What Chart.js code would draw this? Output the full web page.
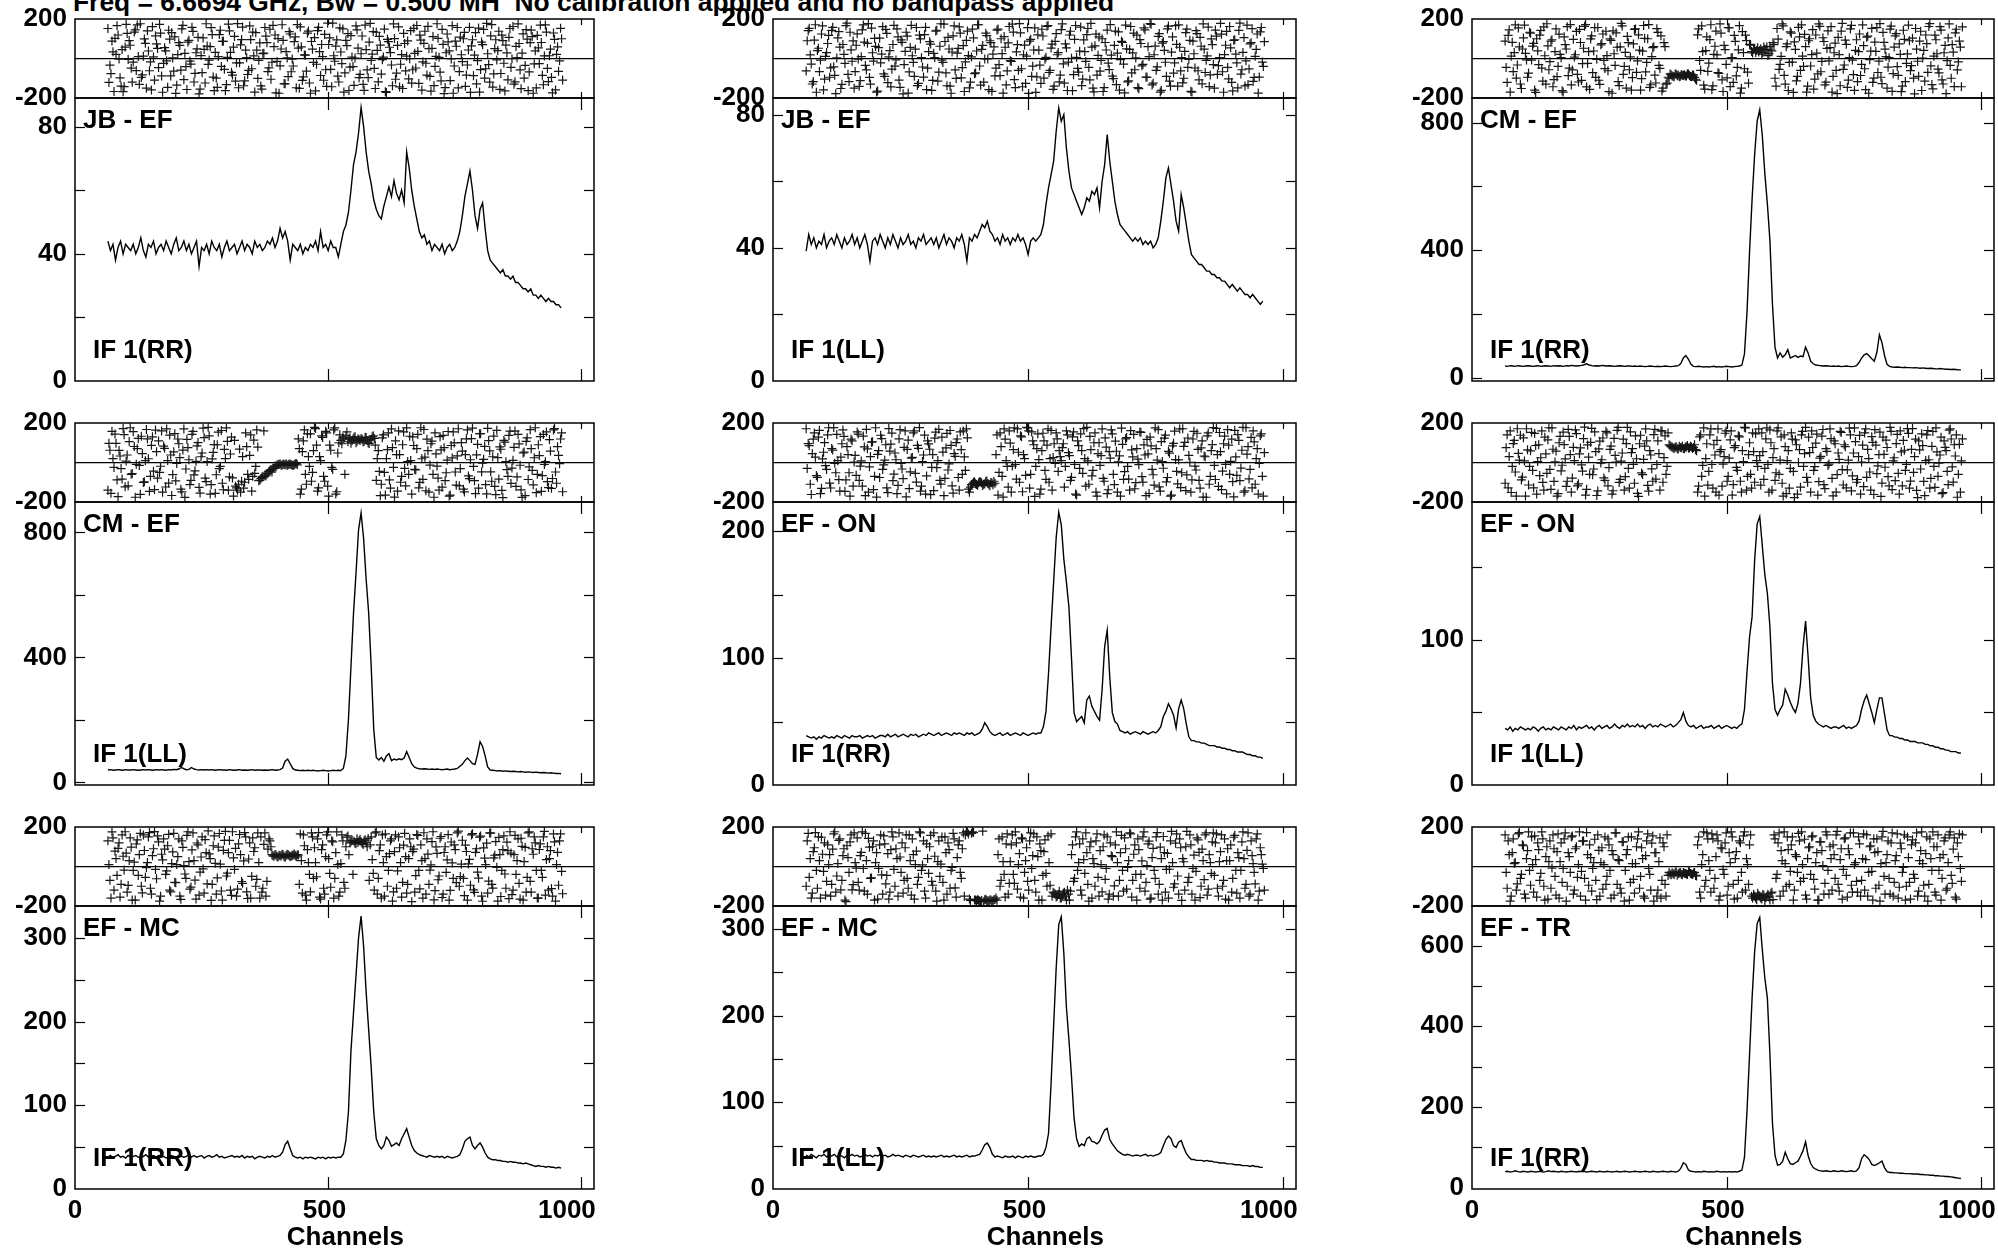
<!DOCTYPE html>
<html><head><meta charset="utf-8">
<script src="https://cdn.jsdelivr.net/npm/chart.js@4.4.1/dist/chart.umd.min.js"></script>
<style>
html,body{margin:0;padding:0;background:#fff;width:1998px;height:1250px;overflow:hidden;position:relative}
canvas{position:absolute}
#title{position:absolute;left:73px;top:-11px;font:bold 26.4px "Liberation Sans",Arial,sans-serif;line-height:1;white-space:pre;color:#000}
</style></head><body>
<div id="title">Freq = 6.6694 GHz, Bw = 0.500 MH  No calibration applied and no bandpass applied</div>
<script>
// ---------------- DATA ----------------
const CHANNELS = [65,70,75,80,85,90,95,100,105,110,115,120,125,130,135,140,145,150,155,160,165,170,175,180,185,190,195,200,205,210,215,220,225,230,235,240,245,250,255,260,265,270,275,280,285,290,295,300,305,310,315,320,325,330,335,340,345,350,355,360,365,370,375,380,385,390,395,400,405,410,415,420,425,430,435,440,445,450,455,460,465,470,475,480,485,490,495,500,505,510,515,520,525,530,535,540,545,550,555,560,565,570,575,580,585,590,595,600,605,610,615,620,625,630,635,640,645,650,655,660,665,670,675,680,685,690,695,700,705,710,715,720,725,730,735,740,745,750,755,760,765,770,775,780,785,790,795,800,805,810,815,820,825,830,835,840,845,850,855,860,865,870,875,880,885,890,895,900,905,910,915,920,925,930,935,940,945,950,955,960];
const PHASE_CHANNELS_A = [65,69,73,77,81,85,89,93,97,101,105,109,113,117,121,125,129,133,137,141,145,149,153,157,161,165,169,173,177,181,185,189,193,197,201,205,209,213,217,221,225,229,233,237,241,245,249,253,257,261,265,269,273,277,281,285,289,293,297,301,305,309,313,317,321,325,329,333,337,341,345,349,353,357,361,365,369,373,377,381,385,389,393,397,401,405,409,413,417,421,425,429,433,437,441,445,449,453,457,461,465,469,473,477,481,485,489,493,497,501,505,509,513,517,521,525,529,533,537,541,545,549,553,557,561,565,569,573,577,581,585,589,593,597,601,605,609,613,617,621,625,629,633,637,641,645,649,653,657,661,665,669,673,677,681,685,689,693,697,701,705,709,713,717,721,725,729,733,737,741,745,749,753,757,761,765,769,773,777,781,785,789,793,797,801,805,809,813,817,821,825,829,833,837,841,845,849,853,857,861,865,869,873,877,881,885,889,893,897,901,905,909,913,917,921,925,929,933,937,941,945,949,953,957,961];
const PHASE_CHANNELS_B = [67,71,75,79,83,87,91,95,99,103,107,111,115,119,123,127,131,135,139,143,147,151,155,159,163,167,171,175,179,183,187,191,195,199,203,207,211,215,219,223,227,231,235,239,243,247,251,255,259,263,267,271,275,279,283,287,291,295,299,303,307,311,315,319,323,327,331,335,339,343,347,351,355,359,363,367,371,375,379,383,387,391,395,399,403,407,411,415,419,423,427,431,435,439,443,447,451,455,459,463,467,471,475,479,483,487,491,495,499,503,507,511,515,519,523,527,531,535,539,543,547,551,555,559,563,567,571,575,579,583,587,591,595,599,603,607,611,615,619,623,627,631,635,639,643,647,651,655,659,663,667,671,675,679,683,687,691,695,699,703,707,711,715,719,723,727,731,735,739,743,747,751,755,759,763,767,771,775,779,783,787,791,795,799,803,807,811,815,819,823,827,831,835,839,843,847,851,855,859,863,867,871,875,879,883,887,891,895,899,903,907,911,915,919,923,927,931,935,939,943,947,951,955,959,963];
const CHANNEL_TICKS = [0, 500, 1000];
const PHASE_TICKS = [-200, 0, 200];

const AMP_JB_EF_RR = [44,41,43,38,42,44,40,43,42,41, 43,40,42,45,41,39,43,42,44,40, 42,43,41,44,42,40,43,45,41,42, 44,41,43,40,42,44,36,42,41,43, 40,44,42,41,43,39,42,44,41,42, 43,40,42,44,41,43,42,40,44,42, 43,41,42,44,43,45,42,44,48,45, 47,44,38,43,42,41,43,40,42,41, 43,42,44,41,47,42,43,41,44,42, 42,39,43,47,49,53,60,68,72,78, 86,80,72,66,62,57,54,52,51,55, 58,61,58,63,59,57,60,56,72,67, 60,55,51,47,45,46,43,44,41,43, 42,41,43,40,42,43,41,42,44,47, 52,58,62,66,60,52,48,54,56,48, 41,38,37,36,35,34,35,33,33,32, 33,31,31,30,29,29,28,29,27,27, 26,27,26,25,26,25,25,24,24,23];
const AMP_JB_EF_LL = [39,44,41,43,40,42,41,44,40,42, 43,41,44,42,40,43,41,42,44,41, 43,40,42,44,41,36,42,43,41,44, 42,40,43,41,44,42,40,43,41,42, 44,41,42,40,43,42,44,41,42,43, 41,43,40,42,44,41,43,42,40,43, 42,44,41,36,43,42,44,43,45,47, 46,48,45,44,42,43,41,44,42,43, 41,43,42,44,42,43,41,38,42,43, 42,43,44,47,53,58,62,66,75,82, 78,80,70,63,58,56,54,52,50,52, 55,54,57,56,58,52,60,65,74,66, 60,54,50,47,46,45,44,43,42,43, 42,43,41,42,41,42,40,41,43,48, 54,61,64,59,54,48,45,56,52,47, 42,38,37,36,35,35,34,33,33,32, 32,31,31,30,30,29,28,29,28,27, 28,27,26,26,25,26,25,24,23,24];
const AMP_CM_EF_RR = [37,36,38,37,36,38,37,36,37,38, 37,36,37,38,36,37,38,37,36,38, 37,38,37,36,38,37,39,38,37,38, 39,41,44,40,38,37,38,37,39,38, 37,38,37,36,37,38,37,36,37,37, 36,37,36,37,36,35,36,37,36,35, 36,35,36,37,36,35,36,37,38,45, 62,70,58,42,36,35,36,35,34,35, 34,35,36,34,35,34,35,36,35,34, 35,36,37,40,75,205,395,560,700,805, 840,760,640,545,430,230,95,62,78,65, 72,88,62,66,70,64,68,66,96,78, 52,44,40,39,38,37,38,37,36,37, 36,37,35,36,37,36,35,36,38,48, 62,72,76,68,60,52,80,135,110,70, 42,36,34,33,34,33,32,33,32,32, 31,32,31,30,31,30,29,30,29,28, 28,29,28,27,27,26,27,26,25,25];
const AMP_CM_EF_LL = [40,41,39,40,41,40,39,41,40,40, 41,40,39,40,41,40,41,40,39,41, 40,41,40,39,41,40,42,41,43,48, 44,41,42,48,43,41,40,41,40,41, 40,41,39,40,41,40,40,39,41,40, 39,40,41,39,40,39,40,41,39,40, 40,39,40,39,40,41,39,40,41,46, 68,75,60,45,40,39,38,39,38,39, 38,39,38,37,38,39,38,37,38,39, 38,39,38,45,85,200,370,540,670,808, 862,780,650,542,370,170,80,72,80,68, 85,92,70,75,72,76,73,78,99,80, 60,50,46,44,43,44,43,42,43,42, 43,42,41,42,43,41,42,43,45,52, 58,70,78,70,60,58,90,130,115,85, 50,40,39,38,37,38,36,37,36,35, 36,35,34,35,34,33,34,33,32,33, 32,31,32,31,30,31,30,29,29,28];
const AMP_EF_ON_RR = [39,38,37,38,36,38,37,39,38,37, 38,37,39,38,37,39,38,37,39,38, 38,39,37,38,39,38,39,37,38,39, 39,38,40,38,39,40,38,39,40,39, 38,40,39,40,38,39,40,39,41,40, 39,40,41,39,40,41,40,39,41,40, 41,40,39,41,40,41,39,40,41,44, 49,46,42,40,39,40,41,39,40,41, 39,40,41,40,39,41,40,39,40,41, 40,41,41,46,58,88,125,160,195,215, 205,178,160,140,100,57,50,52,54,49, 67,70,62,58,54,51,75,109,122,85, 57,50,48,43,42,41,42,40,41,42, 41,40,42,41,40,41,42,41,43,46, 54,58,64,60,55,45,60,67,60,48, 38,35,35,34,34,33,33,32,31,31, 31,30,30,29,29,28,28,27,27,26, 26,26,25,24,24,23,23,22,22,21];
const AMP_EF_ON_LL = [39,38,40,37,39,38,40,39,38,39, 38,40,39,37,39,40,38,39,38,40, 39,38,40,39,38,40,39,41,38,40, 39,40,41,39,40,38,40,41,39,40, 41,39,40,42,40,39,41,40,42,40, 41,40,42,40,41,39,41,42,40,41, 40,42,41,40,41,42,40,41,43,45, 50,44,41,40,41,39,40,41,39,40, 40,41,39,40,41,39,40,41,40,39, 40,39,41,42,52,78,102,116,155,180, 185,165,145,132,109,70,52,48,52,55, 66,62,57,53,50,56,70,95,113,88, 60,48,44,42,41,40,41,40,39,40, 40,39,40,41,39,40,39,40,41,44, 52,58,62,56,50,43,52,60,60,49, 38,34,34,33,33,32,32,31,31,30, 30,30,29,29,29,28,28,27,27,26, 26,25,25,24,24,23,23,23,22,22];
const AMP_EF_MC_RR = [38,40,37,39,41,38,39,37,40,38, 39,40,38,37,39,41,38,39,40,38, 40,38,39,37,38,40,39,38,40,39, 38,39,41,38,40,38,39,40,37,39, 40,38,39,41,38,39,37,38,39,40, 38,39,38,40,37,39,38,39,36,38, 39,38,37,39,38,40,38,39,40,44, 53,57,48,40,38,37,38,36,38,37, 38,37,36,38,37,38,36,38,37,38, 37,38,38,42,58,92,165,210,255,300, 326,290,235,190,145,92,60,52,48,52, 62,58,51,53,55,52,60,66,72,62, 52,46,43,41,40,39,38,40,39,38, 39,38,39,37,39,38,37,38,39,41, 48,57,60,62,52,48,52,55,50,43, 38,36,35,35,34,34,33,33,32,33, 32,32,31,31,30,31,30,29,28,27, 28,27,27,26,27,26,26,25,26,25];
const AMP_EF_MC_LL = [39,37,40,38,36,39,38,40,37,39, 38,40,37,39,38,36,39,38,40,38, 39,37,38,40,38,39,37,39,38,40, 38,39,37,38,40,38,39,38,37,39, 38,37,39,38,37,38,39,37,38,37, 38,37,38,39,37,38,37,38,39,37, 38,37,38,39,37,38,38,39,40,45, 51,53,48,40,37,38,37,36,38,37, 37,38,36,38,37,36,38,37,38,37, 37,38,38,40,48,64,122,188,255,305, 314,272,210,172,130,82,58,49,52,50, 58,60,55,54,52,55,62,68,70,57, 52,48,44,42,40,39,40,39,38,39, 39,38,39,40,38,39,38,39,40,42, 50,57,61,58,50,48,54,56,48,41, 37,34,34,33,33,33,32,33,32,32, 31,31,30,30,30,29,29,29,28,28, 28,27,27,27,26,27,26,26,25,25];
const AMP_EF_TR_RR = [40,41,39,40,42,40,39,41,40,39, 41,40,39,40,41,39,40,42,40,41, 40,39,41,40,39,40,41,40,39,41, 40,41,39,40,41,40,39,41,40,39, 41,40,39,40,41,39,40,41,40,39, 40,41,40,39,40,41,40,39,41,40, 39,40,41,40,39,41,40,39,41,48, 62,58,44,41,40,39,40,39,41,40, 39,40,39,41,40,39,40,39,40,39, 40,39,41,44,75,190,330,470,585,655, 670,590,520,470,330,160,80,56,58,66, 88,72,60,58,62,66,78,92,114,80, 60,50,46,43,42,41,42,41,40,42, 41,40,42,41,40,41,42,40,42,50, 72,82,77,70,58,55,58,62,66,50, 40,38,38,37,37,36,36,35,35,35, 34,34,34,33,33,32,32,31,31,30, 30,29,29,28,28,27,26,25,24,23];

const PHASE_JB_EF_RR_A = [152,-34,88,-167,21,119,-98,45,-142,173,-5,67,-120,134,-61,10,176,-83,99,-150,38,-17,161,-109,74,
-46,128,-171,55,-12,143,-88,3,110,-135,80,-59,168,26,-157,92,-28,137,-75,49,-179,15,104,-124,63,
-8,156,-94,31,-146,121,-40,87,-163,6,140,-70,58,-115,177,-22,96,-138,42,-81,165,-52,13,131,-101,
79,-155,27,113,-66,148,-19,60,-174,101,-37,171,-127,35,-92,124,-3,85,-148,53,160,-111,18,-64,139,
-176,47,106,-29,158,-86,9,122,-141,71,-55,179,-14,94,-119,33,150,-73,65,-162,116,-41,2,145,-97,
24,-131,169,-58,83,-10,136,-152,41,112,-79,7,-168,97,57,-33,175,-105,66,-144,20,127,-63,89,-1,
-125,153,-48,36,118,-160,77,-24,163,-90,51,-137,11,102,-69,147,-178,29,84,-112,166,-38,62,-149,108,
-16,132,-84,43,-172,95,17,-128,154,-56,70,-99,178,-31,115,-145,50,-7,138,-76,91,-164,28,107,-45,
162,-118,4,76,-153,125,-35,98,-68,144,-176,39,117,-26,81,-133,170,-50,14,-96,129,-159,59,-12,100];
const PHASE_JB_EF_RR_B = [-121,-77,34,102,166,-3,-140,-168,58,127,91,-49,-18,145,170,-131,-96,12,77,140,-62,-159,8,115,51,
173,-88,-25,39,-146,98,131,-64,-177,20,66,150,-107,-41,83,-13,158,-119,29,107,-155,-72,46,176,-30,
60,121,-163,-99,10,143,87,-55,-132,174,31,-84,112,-22,-148,69,159,-113,4,-60,96,134,-170,42,-9,
-139,25,157,80,-47,-105,168,119,-15,-176,48,92,-128,3,136,-67,-38,109,172,-151,59,-93,17,128,-124,
86,-20,-164,141,35,71,-110,-57,179,104,-143,14,63,-89,155,-26,-170,92,126,-44,7,-136,165,53,-80,
114,-161,45,-97,178,22,-50,133,-118,68,-6,149,-172,85,30,-138,101,-74,160,-29,-152,76,12,-103,141,
-57,26,167,-126,93,-17,138,-84,50,-165,111,-40,176,6,-113,72,-147,124,39,-2,-176,88,157,-66,19,
100,-141,-33,158,64,-87,131,-11,-170,83,147,-52,24,-120,172,-78,95,40,-156,118,-24,68,-108,152,-1,
-130,61,175,-58,27,-99,146,-163,80,111,-27,-149,54,169,-85,13,134,-117,47,-174,97,21,-65,153,-109];
const PHASE_JB_EF_LL_A = [-63,141,18,-129,93,-171,52,-8,165,-104,30,117,-47,158,-85,3,136,-152,71,-25,179,-117,44,89,-66,
125,-141,9,170,-35,77,-96,154,-13,61,-165,103,22,-78,147,-122,40,-54,168,-7,109,-146,82,-31,133,
-175,56,14,-90,157,-126,99,-43,121,-158,35,73,-111,5,143,-69,176,-20,86,-138,48,-176,115,-58,27,
160,-98,65,-17,139,-149,8,104,-73,171,-38,46,-120,128,-2,90,-166,59,-49,149,-87,25,111,-134,79,
-11,174,-107,34,-60,130,-143,68,12,-177,97,-39,155,-93,42,-126,114,-4,163,-71,53,-156,87,19,-118,
146,-27,74,-162,119,1,-82,167,-50,37,-137,94,-15,152,-108,58,-169,123,16,-64,100,-147,43,-23,172,
-89,66,-132,135,-6,81,-174,49,-113,162,28,-57,118,-153,76,-30,145,-95,10,173,-125,63,-42,126,-161,
85,-19,150,-115,32,-74,166,-140,57,4,-100,131,-45,92,-170,24,141,-62,107,-128,47,-9,159,-83,70,
-150,113,-36,178,-67,20,137,-103,54,-164,95,-22,142,-79,31,-139,169,-53,80,-116,11,124,-94,157,-40];
const PHASE_JB_EF_LL_B = [90,153,-28,-117,171,40,-66,124,-159,11,76,-95,142,-42,-178,104,58,-131,21,166,-80,133,-14,-150,67,
-3,-112,145,83,-58,177,-130,29,102,-170,55,-22,161,-91,127,8,-144,71,-39,150,-109,94,-179,36,113,
-68,168,-20,47,-137,118,4,-94,158,-49,85,-161,26,139,-115,62,-8,174,-73,107,-140,33,165,-101,51,
128,-46,-167,92,15,-120,149,-77,38,171,-135,66,-2,116,-158,80,22,-88,144,-31,100,-175,57,-63,162,
-15,134,-147,70,177,-52,19,-126,156,88,-90,43,-172,120,-34,148,-99,6,167,-60,73,-140,126,30,-84,
175,-125,54,-18,138,-163,97,6,-69,159,-104,35,121,-45,178,-150,64,-84,109,-10,-167,81,144,-56,17,
-102,139,27,-160,87,-28,169,-118,46,-73,128,3,-147,96,-37,155,-94,60,177,-134,19,-60,112,-170,78,
41,-90,164,-140,110,-22,72,170,-63,-123,36,149,-4,-166,88,-48,126,-108,62,175,-71,13,-142,99,-31,
144,-80,4,123,-171,67,-45,162,-121,92,22,-149,179,-57,106,-12,-132,74,151,-96,46,-175,135,-18,85];
const PHASE_CM_EF_RR_A = [88,-121,145,12,-66,170,-33,59,-152,104,26,-95,133,-8,77,-172,39,118,-49,160,-130,64,-16,95,-107,
150,-40,21,-163,110,48,-87,172,-58,7,137,-119,81,-26,163,-144,35,99,-72,156,-4,-110,69,124,-51,
15,-168,92,140,-35,57,-137,178,-80,31,112,-57,-160,74,150,-12,42,-102,167,-68,100,-146,9,60,-124,
132,-50,-165,80,-130,-95,-78,-88,-92,-80,-84,-90,-86,-82,-88,-79,-91,-84,-96,-110,150,-60,35,-155,110,
-23,171,-139,62,18,-76,128,-167,45,-98,155,3,-121,87,-45,166,-150,30,118,-69,72,35,48,30,55,
40,22,58,45,15,62,38,70,-140,98,-30,175,-85,60,-162,135,-18,84,-113,158,-60,12,122,-170,90,
-38,146,-104,27,175,-67,105,-134,51,-12,161,-90,78,-178,20,139,-55,93,-146,4,168,-82,41,-117,124,
-30,65,-158,113,-6,153,-99,36,-71,177,-127,82,10,-44,149,-166,58,126,-85,21,-140,97,-25,169,-61,
103,-179,47,-90,138,2,-115,75,162,-37,-154,118,24,-73,144,-129,66,-11,175,-100,32,130,-58,88,-143];
const PHASE_CM_EF_RR_B = [-45,117,-170,82,30,-99,155,-129,48,169,-7,-74,128,63,-160,100,-31,142,-115,14,176,-57,88,-143,35,
-92,123,4,-170,70,161,-49,-134,97,19,-80,147,-111,52,172,-25,-156,115,38,-96,157,-131,76,-10,138,
-62,99,-176,24,130,-117,59,165,-40,-150,80,8,-97,147,-70,120,-160,37,102,-20,172,-133,55,-84,151,
-35,115,-150,60,-125,-100,-82,-90,-79,-87,-93,-81,-85,-89,-77,-86,-92,-83,-105,120,-10,165,-135,40,-65,
96,-158,21,139,-72,175,-108,66,-30,157,-142,5,117,-88,44,-175,136,-52,91,-125,68,28,52,42,33,
50,31,47,60,25,42,80,-100,152,-55,11,165,-130,74,-20,128,-172,46,-90,110,170,-40,60,-140,100,
20,-155,119,-78,163,-15,86,-120,140,55,-170,29,-60,107,-138,178,-33,72,-109,150,-8,-161,95,35,-86,
170,-52,108,-176,37,-121,83,156,-13,-95,132,47,-150,4,164,-77,115,-41,74,-168,143,-117,23,90,-36,
-99,152,-14,88,-162,41,119,-70,177,-132,12,95,-54,161,-108,29,-178,104,-35,70,-142,148,-17,58,160];
const PHASE_CM_EF_LL_A = [-140,62,158,-25,97,-173,33,-84,141,7,-118,176,-56,81,-9,122,-161,45,-98,167,19,-70,130,-137,55,
109,-19,-150,72,170,-104,38,-61,146,-5,95,-135,63,-177,117,14,-90,158,-42,84,-126,29,174,-79,5,
135,-112,51,-156,90,-31,162,-138,20,107,-73,128,-170,-120,-140,68,-95,-130,150,-60,36,-145,113,-20,78,
-90,-75,160,-68,-55,-40,-48,-30,-22,-12,-8,-14,-10,-6,-12,-9,-15,-11,-5,120,-160,55,165,-110,30,
145,-50,178,88,-128,10,127,-95,150,-170,62,-35,175,-148,100,112,128,-60,155,120,98,118,130,108,115,
122,104,128,112,96,118,135,88,20,-45,-110,140,-165,65,-88,170,-25,110,-145,40,-70,155,-118,5,133,
-160,86,-38,142,-101,19,167,-143,60,-13,108,-176,44,-79,131,-125,75,-52,157,-165,23,99,-115,171,-31,
58,-149,120,-68,14,174,-92,39,-130,146,-3,82,-159,111,-47,29,-121,163,-84,67,-178,103,-36,137,-106,
11,159,-73,94,-139,48,-168,125,-22,70,-113,176,-60,35,-146,142,4,-97,116,-131,165,-48,80,-6,150];
const PHASE_CM_EF_LL_B = [97,-156,20,144,-88,61,-31,172,-123,38,106,-60,156,-176,70,-15,133,-101,9,120,-146,87,-44,164,-79,
-50,160,83,-124,10,139,-167,54,-93,119,25,-149,170,-33,75,-112,142,-63,6,101,-155,48,126,-97,178,
-160,18,91,-62,154,-20,-105,66,175,-140,43,-78,112,-128,-110,-150,30,-100,80,-85,140,-70,-55,165,-92,
-82,-70,-65,-58,-45,-36,-28,-18,-12,-9,-13,-7,-11,-15,-8,-10,-14,-6,-12,70,-135,110,-60,145,-20,
-95,60,172,-145,30,135,-70,158,-120,88,-25,165,-160,48,140,95,120,135,105,125,110,128,100,120,112,
118,108,126,100,115,130,122,-90,60,-168,125,-50,20,150,-130,75,-175,40,160,-100,90,-30,175,-60,10,
130,-35,70,-128,176,-85,27,118,-150,95,-60,150,-18,-140,64,137,-92,12,-170,86,155,-48,34,-118,101,
-135,40,165,-82,121,-20,-158,92,146,-47,16,-112,173,59,-95,134,-163,25,79,-141,112,4,-70,159,-28,
77,-121,142,-14,-177,53,107,-86,166,-40,24,-153,90,131,-66,-10,155,-127,58,-81,172,-105,36,119,-148];
const PHASE_EF_ON_RR_A = [171,96,-110,45,150,-66,128,-158,18,101,-35,176,-129,63,-4,142,-87,27,165,-146,80,-52,118,-120,36,
155,-91,8,134,-168,69,-22,103,-137,176,41,-76,121,-12,90,-153,58,149,-59,14,-116,166,-33,77,-174,
113,-47,26,160,-99,72,-145,5,139,-68,94,-163,40,123,-26,168,-109,53,-80,147,-7,87,-155,31,119,
-140,65,160,-40,125,-150,-112,-100,-108,-115,-98,-104,-110,-96,-106,-118,-102,-95,40,-165,150,-70,170,10,-125,
98,-18,175,-84,52,135,-148,20,178,160,-60,110,-172,70,15,-135,148,-40,88,-100,162,25,-5,120,60,
10,95,-20,140,35,-75,155,-160,110,-30,60,172,-120,8,132,-68,100,-150,45,-15,170,-95,78,-138,22,
145,-112,57,3,-170,92,-46,126,-84,161,28,-133,70,-11,153,-99,38,117,-157,84,-62,175,12,-123,106,
-29,139,-76,47,-165,97,15,-108,170,-52,82,-142,124,1,-88,158,-38,66,-130,109,33,-176,150,-70,91,
-15,173,-121,55,-44,134,-159,88,6,-97,163,-65,112,-28,178,-143,42,-83,127,160,-110,70,-5,145,-170];
const PHASE_EF_ON_RR_B = [-30,85,-162,118,27,-75,163,-131,52,-16,140,-104,71,177,-52,9,-145,95,132,-88,40,-170,110,2,-65,
144,-18,-120,79,168,-150,30,105,-70,-175,60,138,-35,12,-128,172,93,-92,48,-158,120,-5,-82,160,66,
-132,22,150,-55,87,177,-120,38,-160,109,67,-25,-142,154,10,-90,128,-168,74,-38,162,-118,45,101,-76,
155,-60,28,170,-135,-125,-108,-98,-112,-103,-99,-116,-107,-94,-110,-101,-113,-105,140,-50,80,-175,118,-20,160,
-150,65,-10,170,-100,130,40,-65,175,-130,155,90,-20,145,-160,60,110,-85,170,20,-140,95,150,-45,30,
75,-125,160,50,-90,130,-10,-165,85,145,-55,20,178,-110,65,-40,150,-170,100,35,-80,125,-158,55,165,
-60,108,-150,34,174,-85,120,-20,-140,64,142,-102,17,155,-72,89,-168,44,128,-35,-115,70,166,-145,5,
123,-98,56,-170,84,159,-45,13,-127,171,102,-63,36,-150,119,-18,148,-90,74,-175,29,135,-110,60,177,
-86,40,152,-137,95,-9,166,-60,118,-174,28,141,-92,62,-150,176,80,-35,-128,104,20,-160,135,-70,50];
const PHASE_EF_ON_LL_A = [-105,140,30,-152,96,-48,171,12,-88,125,-170,64,-20,153,-128,86,5,-66,160,-140,44,115,-35,175,-96,
58,-158,132,-14,91,-121,168,40,-79,10,146,-108,74,-44,179,-136,27,102,-62,155,-167,69,-3,124,-90,
150,-26,83,-143,36,163,-101,7,118,-72,178,-130,50,-9,135,-156,95,-53,16,170,-116,60,-32,141,-84,
110,-140,160,25,-60,150,85,78,72,80,68,76,84,70,79,74,82,71,90,60,-120,140,-15,-170,95,
-45,170,-130,38,112,-165,65,-8,148,-95,22,160,-112,85,-40,130,-150,5,175,-70,100,-130,55,145,-20,
35,150,-85,120,-10,165,-140,70,-52,175,12,-105,140,-158,60,-30,118,-178,90,0,-125,158,45,-75,128,
-150,76,-21,144,-97,31,167,-132,56,-8,121,-169,95,-61,16,152,-114,80,-37,174,-144,48,106,-86,137,
2,-122,170,66,-48,131,-162,88,-17,154,-104,41,113,-72,178,-137,24,96,-55,160,-118,62,-9,147,-94,
172,30,-141,109,-33,85,-168,140,14,-80,157,-126,54,-3,128,-152,77,-45,164,119,-99,33,-176,92,8];
const PHASE_EF_ON_LL_B = [75,-128,160,-20,112,-170,46,138,-74,8,171,-114,59,-40,147,-160,90,24,-101,128,-55,176,-136,67,3,
-170,100,-42,154,18,-95,132,-150,77,165,-118,44,-12,121,-165,89,-60,173,-33,55,-144,108,14,-78,158,
-118,66,-160,122,2,178,-85,48,-140,96,-30,155,70,-105,19,-172,138,-61,83,110,-145,38,-95,168,-10,
45,160,-100,135,-20,90,80,73,77,69,82,75,71,78,86,73,79,76,65,-150,130,-70,175,20,-115,
140,-10,90,-150,170,55,-120,30,160,-70,115,-165,75,-25,135,-95,60,178,-140,40,-60,150,-100,10,170,
-115,55,-30,175,-150,100,25,-90,160,-60,130,-170,80,10,-130,150,-45,115,-160,65,140,-20,178,-100,50,
160,-40,98,-165,22,134,-112,70,-15,170,-80,110,-150,48,158,-36,90,-128,12,140,-68,175,-100,30,-160,
88,150,-75,20,-140,102,166,-56,40,-172,128,-24,76,-118,158,8,-92,142,-160,54,112,-40,172,-130,66,
-50,118,-178,64,145,-96,10,162,-130,82,-20,175,-70,38,-158,110,60,-112,170,-22,90,140,-60,-150,120];
const PHASE_EF_MC_RR_A = [130,-70,175,-120,40,92,-155,160,-18,68,-96,145,-170,22,114,-45,168,-134,81,-6,150,-110,55,177,-62,
125,-150,34,88,-22,163,-128,74,-80,10,140,-166,97,-38,158,25,-104,170,-69,119,-145,48,-12,136,-88,
64,-172,105,16,-58,167,-124,82,178,-34,132,-146,44,92,-115,162,-76,28,150,-162,120,-50,76,-100,170,
-160,-130,112,-150,88,130,60,52,58,48,55,62,50,56,60,51,57,63,49,58,165,-135,105,-170,20,
-128,150,95,-52,172,-165,110,-140,160,40,-105,125,-60,175,-150,15,130,-110,148,60,125,-40,118,140,130,
125,112,135,100,-70,150,-35,170,-140,80,-160,20,165,-100,65,140,-128,160,-22,95,-155,108,50,-90,140,
-178,88,-46,157,-113,30,171,-140,63,-18,126,-169,99,-67,143,-157,71,-30,161,-121,18,110,-82,179,-51,
133,-147,76,13,-95,166,-131,90,-59,154,-176,42,118,-74,169,-109,57,-4,147,-152,85,-38,123,-163,68,
-120,158,30,-85,143,-170,97,-55,175,-130,62,120,-160,86,-20,150,-145,100,40,-112,165,-175,72,130,-25];
const PHASE_EF_MC_RR_B = [10,-160,145,78,-45,120,-90,52,176,-130,30,98,-20,-170,135,60,-100,160,-55,20,172,-140,90,-15,155,
-175,62,140,-40,105,-120,15,168,-82,50,-150,130,5,-60,176,-115,84,30,-165,110,-28,150,-135,70,180,
40,-90,155,-140,98,12,-170,132,-48,70,-120,176,-15,-150,115,60,-85,172,-128,38,-160,145,95,-65,20,
150,-110,170,-75,140,100,54,61,50,57,53,59,47,62,55,52,58,56,60,-90,30,160,-145,85,-40,
170,-60,20,140,-155,85,-110,50,175,-35,130,-160,70,10,-130,160,-80,100,155,120,132,128,115,122,138,
118,130,120,142,110,35,-120,175,-60,110,160,-150,50,-20,130,-175,75,-110,150,20,-80,168,-135,40,100,
75,-130,162,-20,110,-160,40,140,-90,8,176,-122,66,-48,152,-140,100,34,-170,124,-60,85,170,-100,12,
-60,108,-170,36,160,-118,72,-28,148,-150,94,10,-135,170,-90,44,126,-175,60,-20,155,-110,80,176,-142,
60,-40,140,-165,102,25,-130,170,-75,90,150,-20,-160,115,-55,178,35,-120,80,-150,125,10,-95,165,-138];
const PHASE_EF_MC_LL_A = [-100,168,40,-135,95,-20,150,-160,62,120,-75,10,-150,88,176,-48,132,-118,55,-170,105,-30,160,-92,20,
145,-120,72,-10,168,-140,98,-58,130,20,-165,110,-42,155,-88,65,-130,175,-15,90,-150,48,120,-70,160,
-110,30,140,-165,78,-55,170,8,-125,115,-35,158,-95,52,-175,130,12,-80,150,-140,85,-20,168,-108,45,
130,-60,170,160,175,-165,168,172,-170,-168,-175,-172,-178,-166,-174,-170,-176,-168,-160,60,-100,150,-40,115,-140,
25,160,-85,120,10,-155,140,-30,95,-120,170,55,-70,150,-170,80,-45,135,-100,20,165,-130,-140,-150,-125,
-160,-135,-150,-120,-170,60,-75,150,-20,115,-145,35,170,-90,100,-160,15,130,-55,80,-128,160,-10,-165,120,
50,-98,175,-150,70,-20,145,-115,30,165,-70,110,-170,85,-40,150,-125,5,128,-160,92,-60,172,-90,40,
152,-130,66,-14,178,-105,118,-48,140,-172,24,100,-80,160,-140,58,-25,135,-158,88,-66,170,-115,20,125,
-45,165,-150,75,-100,140,30,-170,110,-60,158,-135,45,-20,175,-110,82,-150,130,15,-88,165,-125,60,-10];
const PHASE_EF_MC_LL_B = [130,-55,-160,75,172,-110,30,148,-25,-145,110,60,-90,165,-130,15,140,-70,90,-178,45,125,-118,170,-8,
-80,55,175,-125,30,142,-60,100,-170,70,-10,160,-140,115,-45,-165,85,150,-100,40,170,-30,-135,95,-60,
160,-145,60,10,-90,175,-20,130,-160,40,100,-75,170,-125,25,-50,150,-170,70,120,-110,-5,140,-155,110,
-30,90,-150,178,165,-172,176,-169,-174,-171,-177,179,-168,-173,-176,-170,-175,-167,-171,140,-70,25,-155,165,-85,
110,-40,175,-115,65,145,-160,30,-75,130,-10,165,-130,50,115,-170,75,-35,155,-95,-150,-135,-155,-142,-160,
-148,-130,-170,-140,-125,110,-60,175,20,-120,140,-35,70,-175,125,40,-100,165,-150,10,100,-65,150,-140,55,
-150,110,20,-70,158,-125,90,-5,170,-155,62,-40,140,-110,28,175,-80,115,-165,45,-20,150,-140,98,-170,
70,-15,-160,130,20,-88,165,-140,95,40,-120,178,-55,110,-10,-170,145,72,-100,30,160,-145,60,-35,170,
120,-110,25,160,-70,-165,90,30,-130,148,-20,70,-160,125,40,-90,170,-140,55,-30,140,-170,95,12,-120];
const PHASE_EF_TR_RR_A = [160,-110,60,-150,140,20,-88,172,-40,105,-160,80,-20,150,-130,35,120,-70,175,-100,50,-165,130,-8,90,
-145,165,25,-80,140,-175,70,-30,155,-120,100,10,-150,128,-60,172,-95,45,-10,138,-168,82,20,-115,150,
-50,110,-160,60,170,-90,30,-135,125,-20,85,-170,150,-65,15,140,-110,95,-150,55,165,-40,118,-175,70,
-120,145,-70,100,-150,-45,-38,-32,-40,-28,-36,-30,-42,-34,-38,-26,-35,-40,-30,-48,150,-160,60,-100,170,
30,-130,140,-60,160,-170,95,-15,120,-145,70,175,-90,40,-160,130,-30,155,-120,10,110,-150,-140,-160,-135,
-150,-165,-145,-158,-140,-170,-130,160,-60,120,-150,30,175,-100,85,-25,150,-120,50,168,-75,10,138,-165,95,
-40,155,-115,70,-170,125,5,-85,160,-140,40,110,-60,178,-125,90,-15,145,-155,60,-95,170,20,-130,115,
-70,165,35,-150,100,-25,140,-110,75,-175,150,-50,20,130,-140,170,-80,55,-160,118,-30,160,-100,45,-165,
135,-60,170,-125,80,15,-150,150,-90,40,175,-130,100,-20,-170,60,145,-110,160,-45,88,-155,120,165,-75];
const PHASE_EF_TR_RR_B = [-30,130,-175,70,15,-120,165,-60,110,-140,40,175,-95,10,155,-155,85,-35,140,-170,100,25,-110,160,-50,
75,-160,120,-10,170,-100,50,150,-140,90,-55,175,-25,130,-170,60,110,-125,20,-70,160,-150,95,10,-90,
140,-20,80,-145,170,35,-110,125,-175,60,150,-80,15,-135,100,175,-50,40,-160,130,-10,-120,155,70,-150,
25,-160,120,-90,160,-30,-42,-37,-29,-44,-33,-39,-31,-36,-41,-27,-38,-33,-45,110,-130,10,175,-70,140,
-20,165,-110,50,130,-150,90,-40,170,-100,20,150,-165,75,-70,120,-130,175,40,-90,160,-160,-150,-168,-145,
-160,-142,-172,-150,-155,-135,-168,140,-40,170,80,-125,15,150,-90,110,-170,60,-30,130,175,-60,-145,40,100,
150,-65,20,-170,125,80,-140,175,-20,100,-120,60,160,-90,35,-165,140,-45,90,170,-130,10,-75,150,-150,
40,-120,160,-30,105,-170,70,140,-95,15,178,-140,60,-60,120,-150,30,165,-105,90,-5,-170,150,-80,110,
-40,120,-150,30,175,-95,65,-175,140,-20,100,-145,160,45,-60,130,-120,20,175,-85,145,-165,50,-10,160];

const BASELINES = ['JB - EF','JB - EF','CM - EF','CM - EF','EF - ON','EF - ON','EF - MC','EF - MC','EF - TR'];
const POLARIZATIONS = ['IF 1(RR)','IF 1(LL)','IF 1(RR)','IF 1(LL)','IF 1(RR)','IF 1(LL)','IF 1(RR)','IF 1(LL)','IF 1(RR)'];
const AMPLITUDES = [AMP_JB_EF_RR, AMP_JB_EF_LL, AMP_CM_EF_RR, AMP_CM_EF_LL, AMP_EF_ON_RR, AMP_EF_ON_LL, AMP_EF_MC_RR, AMP_EF_MC_LL, AMP_EF_TR_RR];
const PHASES_A = [PHASE_JB_EF_RR_A, PHASE_JB_EF_LL_A, PHASE_CM_EF_RR_A, PHASE_CM_EF_LL_A, PHASE_EF_ON_RR_A, PHASE_EF_ON_LL_A, PHASE_EF_MC_RR_A, PHASE_EF_MC_LL_A, PHASE_EF_TR_RR_A];
const PHASES_B = [PHASE_JB_EF_RR_B, PHASE_JB_EF_LL_B, PHASE_CM_EF_RR_B, PHASE_CM_EF_LL_B, PHASE_EF_ON_RR_B, PHASE_EF_ON_LL_B, PHASE_EF_MC_RR_B, PHASE_EF_MC_LL_B, PHASE_EF_TR_RR_B];
const AMP_RANGES = [[0,89],[0,85],[-10,877],[-8,897],[0,223],[0,195],[0,338],[0,326.5],[-3,698]];
const AMP_TICKS = [[0,20,40,60,80],[0,20,40,60,80],[0,200,400,600,800],[0,200,400,600,800],[0,50,100,150,200],[0,50,100,150],[0,50,100,150,200,250,300],[0,50,100,150,200,250,300],[0,100,200,300,400,500,600]];
const AMP_LABELED = [[0,40,80],[0,40,80],[0,400,800],[0,400,800],[0,100,200],[0,100],[0,100,200,300],[0,100,200,300],[0,200,400,600]];

// ---------------- LAYOUT ----------------
const COL_L = [75, 773, 1472], COL_R = [594, 1296, 1994];
const ROW_PT = [19, 423, 827], ROW_PB = [98, 502, 906], ROW_AB = [381, 785, 1189];
const LM = 70, PAD = 30, PADR = 60, XH = 64;
const FAM = '"Liberation Sans", Arial, Helvetica, sans-serif';
const FONT = {family: FAM, size: 26, weight: 'bold', lineHeight: 1.2};
const NB = '\u00a0';
Chart.defaults.font.family = FAM;

const framePlugin = {
  id: 'frame',
  afterDatasetsDraw(chart, args, o) {
    const {ctx, chartArea: a, scales} = chart;
    ctx.save();
    ctx.strokeStyle = '#000';
    const seg = (x1, y1, x2, y2) => { ctx.beginPath(); ctx.moveTo(x1, y1); ctx.lineTo(x2, y2); ctx.stroke(); };
    ctx.lineWidth = 1.2;
    for (const v of o.xTicks) {
      const px = Math.round(scales.x.getPixelForValue(v)) + 0.5;
      if (px <= a.left + 1 || px >= a.right - 1) continue;
      seg(px, a.top, px, a.top + o.xLen); seg(px, a.bottom, px, a.bottom - o.xLen);
    }
    for (const v of (o.yTicks || [])) {
      const py = Math.round(scales.y.getPixelForValue(v)) + 0.5;
      if (py <= a.top + 1 || py >= a.bottom - 1) continue;
      seg(a.left, py, a.left + o.yLen, py); seg(a.right, py, a.right - o.yLen, py);
    }
    ctx.lineWidth = 1.5;
    ctx.strokeRect(a.left, a.top, a.right - a.left, a.bottom - a.top);
    if (o.base) {
      ctx.fillStyle = '#000';
      ctx.font = 'bold 26px ' + FAM;
      ctx.textAlign = 'left'; ctx.textBaseline = 'alphabetic';
      ctx.fillText(o.base, a.left + 8, a.top + 30);
      ctx.fillText(o.pol, a.left + 18, a.bottom - 23);
    }
    ctx.restore();
  }
};

function mkCanvas(left, top, w, h) {
  const c = document.createElement('canvas');
  c.width = w; c.height = h;
  c.style.left = left + 'px'; c.style.top = top + 'px';
  c.style.width = w + 'px'; c.style.height = h + 'px';
  document.body.appendChild(c);
  return c;
}
const setTicks = vals => s => { s.ticks = vals.map(v => ({value: v})); };
const xLabel = v => v === 1000 ? '1000' + NB + NB + NB + NB : (v === 500 ? '500' + NB : String(v));
const crossStyle = {pointStyle: 'cross', pointRadius: 4.5, pointHoverRadius: 4.5, borderColor: '#161616', backgroundColor: '#161616', borderWidth: 1.2};

for (let p = 0; p < 9; p++) {
  const row = Math.floor(p / 3), col = p % 3;
  const L = COL_L[col], R = COL_R[col];
  const W = R - L;
  // phase panel
  const pc = mkCanvas(L - LM, ROW_PT[row] - PAD, LM + W + PADR, PAD + (ROW_PB[row] - ROW_PT[row]) + PAD);
  new Chart(pc, {
    type: 'scatter',
    data: {datasets: [
      Object.assign({data: PHASE_CHANNELS_A.map((c, i) => ({x: c, y: PHASES_A[p][i]}))}, crossStyle),
      Object.assign({data: PHASE_CHANNELS_B.map((c, i) => ({x: c, y: PHASES_B[p][i]}))}, crossStyle)
    ]},
    options: {
      responsive: false, animation: false, devicePixelRatio: 1, events: [],
      layout: {padding: {left: 0, top: PAD, right: PADR, bottom: PAD}},
      plugins: {legend: {display: false}, tooltip: {enabled: false},
        frame: {xTicks: CHANNEL_TICKS, xLen: 6, yTicks: [], yLen: 0}},
      scales: {
        x: {type: 'linear', min: 0, max: 1025, display: false},
        y: {type: 'linear', min: -200, max: 200,
            afterBuildTicks: setTicks(PHASE_TICKS),
            afterFit: s => { s.width = LM; },
            ticks: {callback: v => v === 0 ? '' : String(v), font: FONT, color: '#000', padding: 8, autoSkip: false},
            grid: {drawTicks: false, lineWidth: 1.2, color: c => (c.tick && c.tick.value === 0) ? '#000' : 'rgba(0,0,0,0)'},
            border: {display: false}}
      }
    },
    plugins: [framePlugin]
  });
  // amplitude panel
  const bottom = row === 2;
  const ac = mkCanvas(L - LM, ROW_PB[row] - PAD, LM + W + PADR, PAD + (ROW_AB[row] - ROW_PB[row]) + (bottom ? XH : PAD));
  const lab = AMP_LABELED[p];
  new Chart(ac, {
    type: 'line',
    data: {datasets: [{
      data: CHANNELS.map((c, i) => ({x: c, y: AMPLITUDES[p][i]})),
      borderColor: '#000', borderWidth: 1.4, pointRadius: 0, tension: 0, fill: false
    }]},
    options: {
      responsive: false, animation: false, devicePixelRatio: 1, events: [],
      layout: {padding: {left: 0, top: PAD, right: PADR, bottom: bottom ? 0 : PAD}},
      plugins: {legend: {display: false}, tooltip: {enabled: false},
        frame: {xTicks: CHANNEL_TICKS, xLen: 12, yTicks: AMP_TICKS[p], yLen: 10, base: BASELINES[p], pol: POLARIZATIONS[p]}},
      scales: {
        x: bottom ? {type: 'linear', min: 0, max: 1025,
            afterBuildTicks: setTicks(CHANNEL_TICKS),
            afterFit: s => { s.height = XH; },
            ticks: {font: FONT, color: '#000', padding: 6, maxRotation: 0, autoSkip: false, callback: xLabel},
            grid: {display: false, drawTicks: false}, border: {display: false},
            title: {display: true, text: NB + NB + NB + 'Channels', font: FONT, color: '#000', padding: {top: 0, bottom: 0}}}
          : {type: 'linear', min: 0, max: 1025, display: false},
        y: {type: 'linear', min: AMP_RANGES[p][0], max: AMP_RANGES[p][1],
            afterBuildTicks: setTicks(AMP_TICKS[p]),
            afterFit: s => { s.width = LM; },
            ticks: {callback: v => lab.includes(v) ? String(v) : '', font: FONT, color: '#000', padding: 8, autoSkip: false},
            grid: {display: false, drawTicks: false}, border: {display: false}}
      }
    },
    plugins: [framePlugin]
  });
}
</script>
</body></html>
